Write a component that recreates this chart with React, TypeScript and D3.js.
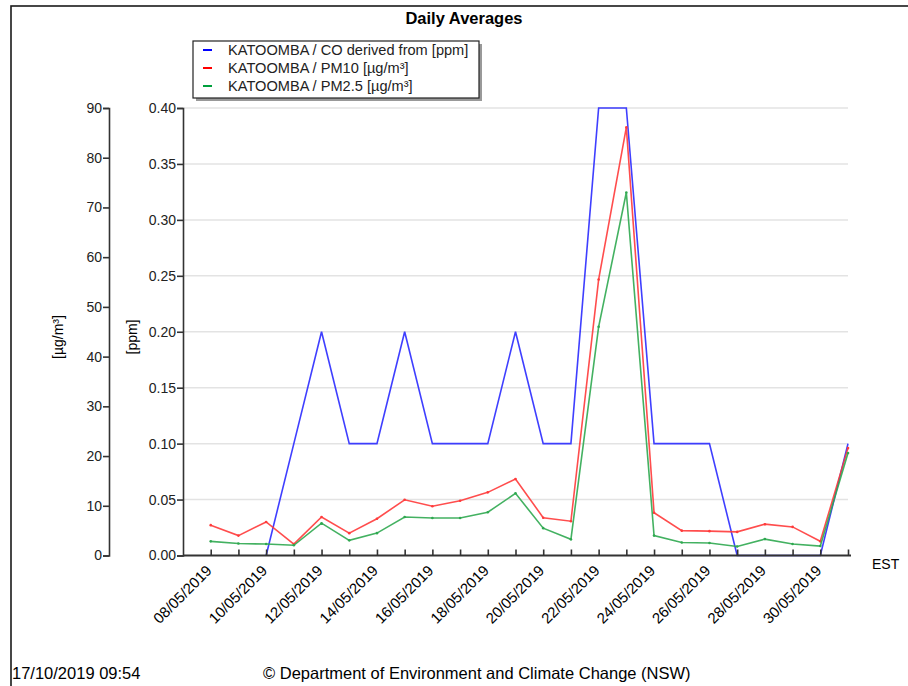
import * as d3 from 'd3'
import { useEffect, useRef } from 'react'

// daily averages, KATOOMBA, May 2019
const pmDates = [
  '2019-05-08', '2019-05-09', '2019-05-10', '2019-05-11', '2019-05-12', '2019-05-13',
  '2019-05-14', '2019-05-15', '2019-05-16', '2019-05-17', '2019-05-18', '2019-05-19',
  '2019-05-20', '2019-05-21', '2019-05-22', '2019-05-23', '2019-05-24', '2019-05-25',
  '2019-05-26', '2019-05-27', '2019-05-28', '2019-05-29', '2019-05-30', '2019-05-31',
]
const pm10 = [6.1, 4.0, 6.75, 2.3, 7.75, 4.5, 7.4, 11.2, 9.9, 11.0, 12.7, 15.4, 7.6, 6.9, 55.5, 86.1, 8.6, 5.0, 4.9, 4.75, 6.3, 5.75, 2.85, 21.6]
const pm25 = [2.85, 2.4, 2.3, 2.05, 6.5, 3.05, 4.5, 7.75, 7.55, 7.55, 8.7, 12.5, 5.5, 3.25, 46, 73, 4.0, 2.6, 2.5, 1.8, 3.3, 2.3, 1.9, 20.6]
const coDates = pmDates.slice(2)
const co = [0, 0.1, 0.2, 0.1, 0.1, 0.2, 0.1, 0.1, 0.1, 0.2, 0.1, 0.1, 0.4, 0.4, 0.1, 0.1, 0.1, 0, 0, 0, 0, 0.1]

const legendItems = [
  { label: 'KATOOMBA / CO derived from [ppm]', color: '#0000ff' },
  { label: 'KATOOMBA / PM10 [µg/m³]', color: '#ff0000' },
  { label: 'KATOOMBA / PM2.5 [µg/m³]', color: '#00a03c' },
]

const W = 908
const H = 686
const plot = { left: 183, right: 848, top: 108, bottom: 555.5 }
const font = '"Liberation Sans", Arial, sans-serif'

const parse = d3.utcParse('%Y-%m-%d')

export default function App() {
  const ref = useRef<SVGSVGElement>(null)

  useEffect(() => {
    document.body.style.margin = '0'
    const svg = d3.select(ref.current)
    svg.selectAll('*').remove()
    svg.attr('font-family', font)

    const x = d3
      .scaleUtc()
      .domain([parse('2019-05-07')!, parse('2019-05-31')!])
      .range([plot.left, plot.right])
    const yUg = d3.scaleLinear().domain([0, 90]).range([plot.bottom, plot.top])
    const yPpm = d3.scaleLinear().domain([0, 0.4]).range([plot.bottom, plot.top])

    // frame
    svg.append('rect')
      .attr('x', 11).attr('y', 6).attr('width', 1000).attr('height', 1000)
      .attr('fill', 'none').attr('stroke', '#1a1a1a').attr('stroke-width', 1.6)

    svg.append('text')
      .attr('x', 464).attr('y', 24)
      .attr('text-anchor', 'middle')
      .attr('font-size', 16.5).attr('font-weight', 'bold')
      .text('Daily Averages')

    // gridlines
    svg.append('g')
      .selectAll('line')
      .data(d3.range(1, 9).map((i) => i * 0.05))
      .join('line')
      .attr('x1', plot.left).attr('x2', plot.right)
      .attr('y1', (d) => yPpm(d)).attr('y2', (d) => yPpm(d))
      .attr('stroke', '#e3e3e3').attr('stroke-width', 1.5)

    // series (drawn before the axes so the axis lines sit on top)
    const lineUg = d3.line<[string, number]>().x((d) => x(parse(d[0])!)).y((d) => yUg(d[1]))
    const linePpm = d3.line<[string, number]>().x((d) => x(parse(d[0])!)).y((d) => yPpm(d[1]))

    const series = [
      { pts: coDates.map((d, i) => [d, co[i]] as [string, number]), gen: linePpm, y: yPpm, color: '#2a2aff', dots: false },
      { pts: pmDates.map((d, i) => [d, pm10[i]] as [string, number]), gen: lineUg, y: yUg, color: '#ff3a3a', dots: true },
      { pts: pmDates.map((d, i) => [d, pm25[i]] as [string, number]), gen: lineUg, y: yUg, color: '#2fa850', dots: true },
    ]

    series.forEach((s) => {
      svg.append('path')
        .datum(s.pts)
        .attr('d', s.gen)
        .attr('fill', 'none')
        .attr('stroke', s.color)
        .attr('stroke-width', 1.6)
        .attr('stroke-opacity', 0.9)
      if (s.dots) {
        svg.append('g')
          .selectAll('circle')
          .data(s.pts)
          .join('circle')
          .attr('cx', (d) => x(parse(d[0])!))
          .attr('cy', (d) => s.y(d[1]))
          .attr('r', 1.3)
          .attr('fill', s.color)
      }
    })

    // ug/m3 axis
    const ugAxis = svg.append('g').attr('transform', `translate(109,0)`)
    ugAxis.call(
      d3.axisLeft(yUg).tickValues(d3.range(0, 95, 5)).tickSize(4).tickFormat(() => '')
    )
    ugAxis.call(
      d3.axisLeft(yUg).tickValues(d3.range(0, 100, 10)).tickSize(6).tickPadding(1)
        .tickFormat(d3.format('d'))
    )

    // ppm axis
    const ppmAxis = svg.append('g').attr('transform', `translate(${plot.left},0)`)
    ppmAxis.call(
      d3.axisLeft(yPpm).tickValues(d3.range(0, 41).map((i) => i / 100)).tickSize(3)
        .tickFormat(() => '')
    )
    ppmAxis.call(
      d3.axisLeft(yPpm).tickValues(d3.range(0, 9).map((i) => i * 0.05)).tickSize(6)
        .tickPadding(1).tickFormat(d3.format('.2f'))
    )

    // x axis, ticks point up into the plot
    const days = d3.utcDay.range(parse('2019-05-08')!, parse('2019-06-01')!)
    const xAxis = svg.append('g').attr('transform', `translate(0,${plot.bottom})`)
    xAxis.call(d3.axisBottom(x).tickValues(days).tickSize(-6).tickSizeOuter(0).tickFormat(() => ''))
    xAxis.selectAll('.domain').attr('d', `M${plot.left},0H${plot.right + 3}`)

    const fmt = d3.utcFormat('%d/%m/%Y')
    svg.append('g')
      .selectAll('text')
      .data(days.filter((_, i) => i % 2 === 0 && i < 23))
      .join('text')
      .attr('transform', (d) => `translate(${x(d) + 2},${plot.bottom + 16}) rotate(-45)`)
      .attr('text-anchor', 'end')
      .attr('font-size', 15)
      .text((d) => fmt(d))

    svg.selectAll('.tick text').attr('font-size', 14).attr('fill', '#222').attr('font-family', font)
    svg.selectAll('.domain, .tick line').attr('stroke', '#333').attr('stroke-width', 1.6)
    xAxis.selectAll('.domain').attr('stroke-width', 2.2)

    svg.append('text')
      .attr('x', 872).attr('y', 569).attr('font-size', 14).text('EST')

    // axis titles
    svg.append('text')
      .attr('transform', 'translate(63,337) rotate(-90)')
      .attr('text-anchor', 'middle').attr('font-size', 14)
      .text('[µg/m³]')
    svg.append('text')
      .attr('transform', 'translate(137,337) rotate(-90)')
      .attr('text-anchor', 'middle').attr('font-size', 14)
      .text('[ppm]')

    // legend
    const lg = svg.append('g').attr('transform', 'translate(193,41)')
    lg.append('rect').attr('x', 3).attr('y', 3).attr('width', 286).attr('height', 57).attr('fill', '#999')
    lg.append('rect').attr('width', 286).attr('height', 57)
      .attr('fill', '#fff').attr('stroke', '#222').attr('stroke-width', 1.2)
    const rows = lg.selectAll('g.row')
      .data(legendItems)
      .join('g')
      .attr('class', 'row')
      .attr('transform', (_, i) => `translate(0,${9 + i * 18})`)
    rows.append('line')
      .attr('x1', 10).attr('x2', 19)
      .attr('stroke', (d) => d.color).attr('stroke-width', 2)
    rows.append('text')
      .attr('x', 35).attr('y', 5)
      .attr('font-size', 14.6).attr('fill', '#222')
      .text((d) => d.label)

    // footer
    svg.append('text')
      .attr('x', 12).attr('y', 679).attr('font-size', 16.5).text('17/10/2019 09:54')
    svg.append('text')
      .attr('x', 263).attr('y', 679).attr('font-size', 16.5)
      .text('© Department of Environment and Climate Change (NSW)')
  }, [])

  return <svg ref={ref} width={W} height={H} style={{ display: 'block' }} />
}
